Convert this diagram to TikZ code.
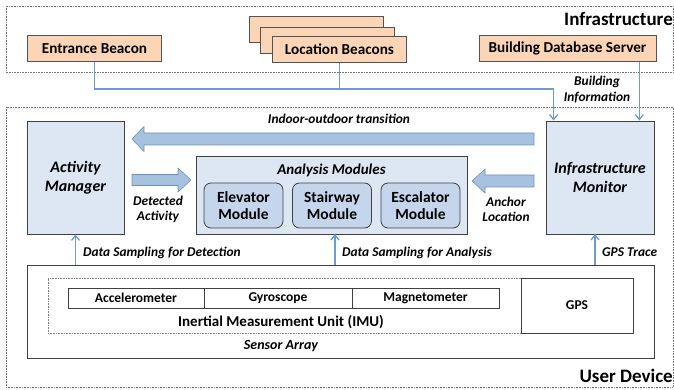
\documentclass[tikz,border=0pt]{standalone}
\usepackage{fontspec}
\setmainfont{Carlito}
\usetikzlibrary{arrows.meta,calc}
\definecolor{peach}{HTML}{FBD5B5}
\definecolor{boxfill}{HTML}{DDE7F3}
\definecolor{modfill}{HTML}{C5D6EC}
\definecolor{arrfill}{HTML}{A7C1E0}
\definecolor{arrdraw}{HTML}{7090BA}
\definecolor{linkc}{HTML}{6F9BD2}
\definecolor{edgec}{HTML}{404040}
\begin{document}
\begin{tikzpicture}[x=1pt,y=-1pt,
  every node/.style={inner sep=0pt,align=center},
  zone/.style={draw=gray!90!black,line width=0.7pt,dash pattern=on 0.7pt off 0.9pt},
  beacon/.style={draw=edgec!90,line width=0.9pt,fill=peach,minimum width=134pt,minimum height=26pt,font=\fontsize{15.2}{17}\selectfont\bfseries},
  blk/.style={draw=edgec,line width=0.8pt,fill=boxfill,font=\fontsize{16}{19}\selectfont\bfseries\itshape},
  modbox/.style={draw=edgec,line width=0.8pt,fill=modfill,rounded corners=7pt,minimum width=79pt,minimum height=45pt,font=\fontsize{15.5}{17.5}\selectfont\bfseries},
  plain/.style={draw=edgec,line width=0.8pt,fill=white},
  sens/.style={draw=edgec,line width=0.8pt,minimum height=20pt,font=\fontsize{13.5}{15}\selectfont\bfseries},
  lbl/.style={font=\fontsize{13.4}{15.5}\selectfont\bfseries\itshape},
  zonelbl/.style={font=\fontsize{19}{22}\selectfont\bfseries},
  link/.style={draw=linkc,line width=1.7pt},
  linkarrow/.style={link,-{Straight Barb[length=5pt,width=8pt,line width=1.3pt]}},
  bigarrow/.style={fill=arrfill,draw=arrdraw,line width=0.6pt,line join=miter}]
\useasboundingbox (0,0) rectangle (674,390);

% zones
\draw[zone] (6,6) rectangle (673,72);
\draw[zone] (6,107) rectangle (673,387);
\node[zonelbl,anchor=east] (infl) at (673,19) {Infrastructure};
\node[zonelbl,anchor=east] (udl) at (673,376) {User Device};

% infrastructure
\node[beacon] (eb) at (94.5,48.5) {Entrance Beacon};
\node[beacon] (lb3) at (316,29.5) {};
\node[beacon] (lb2) at (327.5,40) {};
\node[beacon] (lb) at (339.5,49.5) {Location Beacons};
\node[beacon,minimum width=177pt] (db) at (567.5,48.5) {Building Database Server};

% user device blocks
\node[blk,minimum width=97pt,minimum height=113pt] (am) at (75.5,177.5) {Activity\\Manager};
\node[blk,minimum width=108pt,minimum height=113pt] (im) at (600,177.5) {Infrastructure\\Monitor};
\node[blk,minimum width=271pt,minimum height=78pt] (an) at (331.5,195) {};
\node[font=\fontsize{15}{17}\selectfont\bfseries\itshape,anchor=center] (antitle) at (331.5,170) {Analysis Modules};
\node[modbox] (elev) at (243.5,205.5) {Elevator\\Module};
\node[modbox] (stair) at (332,205.5) {Stairway\\Module};
\node[modbox] (esc) at (420.5,205.5) {Escalator\\Module};

% sensor array
\node[plain,minimum width=627pt,minimum height=93pt] (sa) at (340.5,311.5) {};
\node[draw=gray,line width=0.6pt,dash pattern=on 0.7pt off 0.9pt,minimum width=473pt,minimum height=55pt] (imu) at (284.5,305.5) {};
\node[sens,minimum width=136pt] (acc) at (136,298) {Accelerometer};
\node[sens,minimum width=148pt] (gyr) at (278,298) {Gyroscope};
\node[sens,minimum width=147pt] (mag) at (425.5,298) {Magnetometer};
\node[font=\fontsize{15}{17}\selectfont\bfseries] (imul) at (281,322) {Inertial Measurement Unit (IMU)};
\node[plain,minimum width=112pt,minimum height=55pt,font=\fontsize{13.5}{15}\selectfont\bfseries] (gps) at (577,305.5) {GPS};
\node[font=\fontsize{14}{16}\selectfont\bfseries\itshape] (sal) at (281,346) {Sensor Array};

% infrastructure links
\coordinate (imA) at ($(im.north west)+(8,0)$);
\coordinate (imB) at ($(im.north east)+(-15,0)$);
\draw[linkarrow] (eb.south) -- ++(0,27) -| (imA);
\draw[link] (lb.south) -- ++(0,27);
\draw[linkarrow] (db.south -| imB) -- (imB);
\node[lbl] (bil) at (597,89.5) {Building\\Information};

% big arrows
\draw[bigarrow] (534,133) -- (144,133) -- (144,126.5) -- (132,139) -- (144,151.5) -- (144,145) -- (534,145) -- cycle;
\node[lbl] (iot) at (339,119) {Indoor-outdoor transition};
\draw[bigarrow] (132,174.5) -- (178,174.5) -- (178,168) -- (191,180) -- (178,192) -- (178,185.5) -- (132,185.5) -- cycle;
\node[lbl] (dal) at (158,209.5) {Detected\\Activity};
\draw[bigarrow] (534,175) -- (485,175) -- (485,169) -- (472,181) -- (485,193) -- (485,187) -- (534,187) -- cycle;
\node[lbl] (all) at (506,209.5) {Anchor\\Location};

% sampling links
\coordinate (anS) at (335,234);
\coordinate (imS) at (595,234);
\draw[linkarrow] (sa.north -| am.south) -- (am.south);
\draw[linkarrow] (sa.north -| anS) -- (anS);
\draw[linkarrow] (sa.north -| imS) -- (imS);
\node[lbl,anchor=west] (dsd) at (83,252.5) {Data Sampling for Detection};
\node[lbl,anchor=west] (dsa) at (342,252.5) {Data Sampling for Analysis};
\node[lbl,anchor=west] (gpst) at (602,252.5) {GPS Trace};
\end{tikzpicture}
\end{document}
